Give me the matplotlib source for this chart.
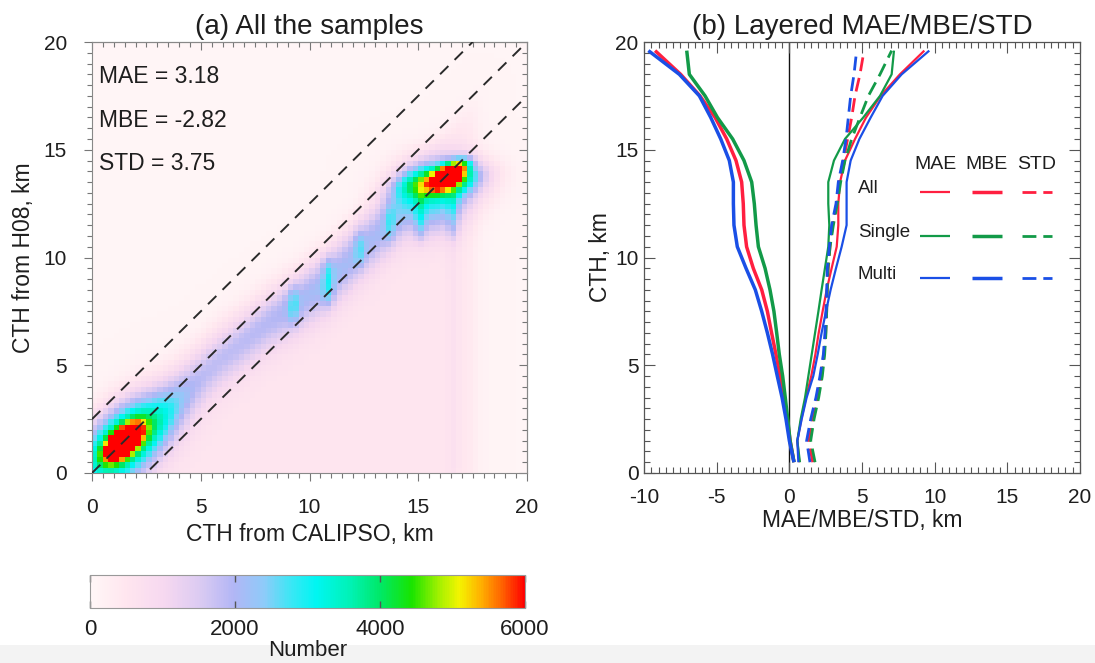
import numpy as np
import matplotlib
matplotlib.use("Agg")
import matplotlib.pyplot as plt
from matplotlib.colors import LinearSegmentedColormap
from matplotlib.ticker import MultipleLocator
from matplotlib.lines import Line2D
from matplotlib.patches import Rectangle

plt.rcParams['font.family'] = ['Liberation Sans', 'DejaVu Sans']
plt.rcParams['axes.unicode_minus'] = False
TEXT = '#1e1e1e'

# ---------------- (a) joint histogram of cloud-top heights ----------------
bin_km = 0.25
edges = np.arange(0.0, 20.0 + bin_km, bin_km)
centres = 0.5 * (edges[:-1] + edges[1:])
XX, YY = np.meshgrid(centres, centres)   # XX: CALIPSO CTH, YY: H08 CTH

# compact clusters (low clouds and high clouds)
blob_x = [1.45, 1.45, 16.5, 16.0, 16.1, 15.7]
blob_y = [1.45, 1.45, 13.9, 13.55, 13.5, 12.0]
blob_peak = [9000, 5000, 6000, 2800, 2500, 1300]
blob_along = [0.6, 1.8, 0.55, 1.25, 1.3, 0.9]
blob_across = [0.3, 0.95, 0.26, 0.45, 0.85, 0.8]
blob_angle = [45, 45, 35, 10, 0, 0]

# broad band of mid-level clouds (H08 lower than CALIPSO)
band_x = [0.5, 2.5, 5.5, 8.0, 9.3, 10.9, 12.3, 13.8, 14.5]
band_y = [0.5, 2.3, 5.1, 7.0, 7.8, 8.9, 10.3, 11.7, 12.3]
band_amp = [1300, 1300, 1450, 1450, 1550, 1650, 1550, 1600, 1500]
band_width = 1.0

# vertical streaks of H08 heights under a fixed CALIPSO height
streak_x = [9.25, 10.85, 12.3, 13.7, 15.1, 16.6, 16.6]
streak_ylo = [7.0, 7.8, 9.6, 10.8, 10.8, 10.9, 0.0]
streak_yhi = [8.6, 10.0, 11.2, 12.4, 13.0, 13.0, 11.0]
streak_amp = [800, 850, 650, 650, 900, 900, 200]

# diffuse counts below / above the 1:1 line
lower_level = 450
upper_level = 70
count_max = 6000


def soft_step(z, width):
    return 1.0 / (1.0 + np.exp(-z / width))


counts = np.full(XX.shape, float(upper_level))
counts += lower_level * soft_step(XX - YY - 0.4, 0.35) * soft_step(17.6 - XX, 0.25) \
    * soft_step(XX - 1.0, 0.4)
for x0, y0, pk, sa, sc, ang in zip(blob_x, blob_y, blob_peak, blob_along,
                                   blob_across, blob_angle):
    a = np.deg2rad(ang)
    dx, dy = XX - x0, YY - y0
    u = dx * np.cos(a) + dy * np.sin(a)
    v = -dx * np.sin(a) + dy * np.cos(a)
    counts += pk * np.exp(-0.5 * ((u / sa) ** 2 + (v / sc) ** 2))
band_centre = np.interp(XX, band_x, band_y)
band_level = np.interp(XX, band_x, band_amp)
counts += band_level * np.exp(-0.5 * ((YY - band_centre) / band_width) ** 2) \
    * soft_step(14.8 - XX, 0.3) * soft_step(XX - 3.0, 0.5)
for sx, lo, hi, amp in zip(streak_x, streak_ylo, streak_yhi, streak_amp):
    counts += amp * np.exp(-0.5 * ((XX - sx) / 0.18) ** 2) \
        * soft_step(YY - lo, 0.2) * soft_step(hi - YY, 0.2)
counts = np.clip(counts, 0, count_max)

cmap = LinearSegmentedColormap.from_list('cth', [
    (0.00, '#fff7f7'), (0.08, '#ffe6ef'), (0.17, '#f6d8f0'),
    (0.25, '#dccbf2'), (0.33, '#b2b6f5'), (0.40, '#8ecbf9'),
    (0.46, '#3de6f5'), (0.52, '#00f6f2'), (0.60, '#00f2b4'),
    (0.67, '#00e864'), (0.74, '#18e400'), (0.80, '#9cf000'),
    (0.85, '#f4f400'), (0.90, '#ffb000'), (0.95, '#ff6000'),
    (1.00, '#ff0000')])

# ---------------- (b) layered statistics ----------------
heights = [0.5, 1.5, 2.5, 3.5, 4.5, 5.5, 6.5, 7.5, 8.5, 9.5,
           10.5, 11.5, 12.5, 13.5, 14.5, 15.5, 16.5, 17.5, 18.5, 19.6]

mae_all = [0.69, 0.55, 0.83, 1.15, 1.51, 1.79, 2.02, 2.29, 2.57, 2.91,
           3.26, 3.37, 3.37, 3.49, 3.83, 4.52, 5.28, 6.28, 7.61, 9.29]
mae_single = [0.73, 0.55, 0.78, 1.08, 1.31, 1.54, 1.77, 2.00, 2.22, 2.45,
              2.68, 2.75, 2.68, 2.68, 3.07, 3.83, 5.09, 6.24, 7.04, 7.20]
mae_multi = [0.62, 0.55, 0.85, 1.19, 1.65, 1.95, 2.22, 2.52, 2.84, 3.21,
             3.60, 3.94, 3.94, 3.94, 4.22, 4.82, 5.60, 6.42, 7.73, 9.63]

mbe_all = [0.32, 0.05, -0.14, -0.37, -0.64, -0.92, -1.22, -1.51, -1.90, -2.48,
           -2.94, -3.12, -3.17, -3.28, -3.67, -4.31, -5.11, -6.15, -7.48, -9.24]
mbe_single = [0.32, 0.05, -0.11, -0.28, -0.46, -0.69, -0.87, -1.06, -1.33, -1.67,
              -2.13, -2.29, -2.41, -2.59, -3.12, -3.90, -4.95, -5.80, -6.88, -7.06]
mbe_multi = [0.32, 0.00, -0.23, -0.50, -0.83, -1.15, -1.51, -1.90, -2.34, -2.98,
             -3.58, -3.81, -3.85, -3.85, -4.13, -4.72, -5.41, -6.19, -7.57, -9.70]

std_all = [1.61, 1.33, 1.61, 1.95, 2.20, 2.39, 2.50, 2.57, 2.61, 2.68,
           2.80, 2.98, 3.26, 3.44, 3.72, 4.01, 4.29, 4.52, 4.86, 5.14]
std_single = [1.77, 1.47, 1.70, 2.02, 2.27, 2.43, 2.52, 2.57, 2.61, 2.66,
              2.80, 3.03, 3.30, 3.53, 3.83, 4.29, 4.86, 5.44, 6.24, 7.04]
std_multi = [1.42, 1.19, 1.47, 1.83, 2.11, 2.34, 2.45, 2.52, 2.57, 2.61,
             2.75, 2.91, 3.21, 3.37, 3.67, 3.90, 4.06, 4.22, 4.45, 4.63]

groups = ['All', 'Single', 'Multi']
group_colors = ['#ff1f40', '#129a48', '#1a4fe6']
stats = ['MAE', 'MBE', 'STD']
profiles = {
    'All': (mae_all, mbe_all, std_all),
    'Single': (mae_single, mbe_single, std_single),
    'Multi': (mae_multi, mbe_multi, std_multi),
}
stat_styles = [dict(lw=1.6, ls='-'), dict(lw=2.5, ls='-'),
               dict(lw=2.0, ls=(0, (5, 2.5)))]

# ---------------- figure ----------------
fig = plt.figure(figsize=(10.95, 6.63), dpi=100)
fig.patches.append(Rectangle((0, 0), 1, 18 / 663, transform=fig.transFigure,
                             facecolor='#f3f3f3', edgecolor='none', zorder=-5))

W, H = 1095, 663
ax1 = fig.add_axes([92 / W, 1 - 473 / H, 435 / W, 431 / H])
ax2 = fig.add_axes([644 / W, 1 - 473 / H, 436 / W, 431 / H])
cax = fig.add_axes([90 / W, 1 - 608 / H, 435 / W, 33 / H])

im = ax1.imshow(counts, origin='lower', extent=(0, 20, 0, 20), cmap=cmap,
                vmin=0, vmax=count_max, interpolation='nearest', aspect='auto')
ref_x = np.array([0.0, 20.0])
for off in (2.5, 0.0, -2.5):
    ax1.plot(ref_x, ref_x + off, color='#2a2a2a', lw=1.4,
             ls=(0, (6, 4.5)), zorder=3)
ax1.set_xlim(0, 20)
ax1.set_ylim(0, 20)
ax1.set_title('(a) All the samples', fontsize=20, color=TEXT, pad=6)
ax1.set_xlabel('CTH from CALIPSO, km', fontsize=16.5, color=TEXT, labelpad=4)
ax1.set_ylabel('CTH from H08, km', fontsize=16.5, color=TEXT, labelpad=6)
ax1.set_xticks([0, 5, 10, 15, 20])
ax1.set_yticks([0, 5, 10, 15, 20])
ax1.xaxis.set_minor_locator(MultipleLocator(0.5))
ax1.yaxis.set_minor_locator(MultipleLocator(0.5))
ax1.tick_params(which='both', direction='out', colors='#777777',
                labelcolor=TEXT, labelsize=15, width=0.8)
ax1.tick_params(which='major', length=6, pad=12)
ax1.tick_params(which='minor', length=3.5)
for side in ('top', 'right'):
    sec = ax1.secondary_xaxis('top') if side == 'top' else ax1.secondary_yaxis('right')
    axis = sec.xaxis if side == 'top' else sec.yaxis
    axis.set_major_locator(MultipleLocator(5))
    axis.set_minor_locator(MultipleLocator(0.5))
    sec.tick_params(which='both', direction='in', colors='#777777',
                    labeltop=False, labelright=False, width=0.8)
    sec.tick_params(which='major', length=6)
    sec.tick_params(which='minor', length=3.5)
    sec.spines[side].set_color('#888888')
for sp in ax1.spines.values():
    sp.set_color('#888888')
    sp.set_linewidth(0.8)

metric_names = ['MAE', 'MBE', 'STD']
metric_values = [3.18, -2.82, 3.75]
for i, (nm, val) in enumerate(zip(metric_names, metric_values)):
    ax1.text(0.016, 0.919 - 0.1 * i, f'{nm} = {val:.2f}', transform=ax1.transAxes,
             fontsize=16.5, color=TEXT, ha='left', va='center', zorder=4)

cb = fig.colorbar(im, cax=cax, orientation='horizontal')
cb.set_ticks([0, 2000, 4000, 6000])
cb.ax.tick_params(direction='in', length=5, width=1.0, colors='#555555',
                  labelcolor=TEXT, labelsize=16, top=True, pad=8)
cb.outline.set_edgecolor('#999999')
cb.outline.set_linewidth(0.8)
cb.set_label('Number', fontsize=16, color=TEXT, labelpad=0)

# panel (b)
for g, col in zip(groups, group_colors):
    for values, st in zip(profiles[g], stat_styles):
        ax2.plot(values, heights, color=col, solid_capstyle='butt', **st)
ax2.axvline(0, color='#111111', lw=1.0, zorder=1)
ax2.set_xlim(-10, 20)
ax2.set_ylim(0, 20)
ax2.set_title('(b) Layered MAE/MBE/STD', fontsize=20, color=TEXT, pad=6)
ax2.set_xlabel('MAE/MBE/STD, km', fontsize=16.5, color=TEXT, labelpad=1)
ax2.set_ylabel('CTH, km', fontsize=16.5, color=TEXT, labelpad=2)
ax2.set_xticks([-10, -5, 0, 5, 10, 15, 20])
ax2.set_yticks([0, 5, 10, 15, 20])
ax2.xaxis.set_minor_locator(MultipleLocator(0.5))
ax2.yaxis.set_minor_locator(MultipleLocator(0.5))
ax2.tick_params(which='both', direction='in', top=True, right=True,
                colors='#555555', labelcolor=TEXT, labelsize=15, width=0.8)
ax2.tick_params(which='major', length=8)
ax2.tick_params(which='minor', length=4)
ax2.tick_params(axis='x', which='major', pad=11)
ax2.tick_params(axis='y', which='major', pad=4)
for sp in ax2.spines.values():
    sp.set_color('#555555')
    sp.set_linewidth(0.9)

# legend table: rows are sample groups, columns are statistics
col_x = [(0.633, 0.702), (0.752, 0.821), (0.867, 0.936)]
row_y = [0.652, 0.550, 0.452]
for (x0, x1), nm in zip(col_x, stats):
    ax2.text(0.5 * (x0 + x1), 0.716, nm, transform=ax2.transAxes, fontsize=14,
             color=TEXT, ha='center', va='center')
for g, col, yy in zip(groups, group_colors, row_y):
    ax2.text(0.490, yy + 0.008, g, transform=ax2.transAxes, fontsize=13.5,
             color=TEXT, ha='left', va='center')
    for (x0, x1), st in zip(col_x, stat_styles):
        ax2.add_line(Line2D([x0, x1], [yy, yy], transform=ax2.transAxes,
                            color=col, solid_capstyle='butt', **st))

fig.savefig('out.png', dpi=100)
